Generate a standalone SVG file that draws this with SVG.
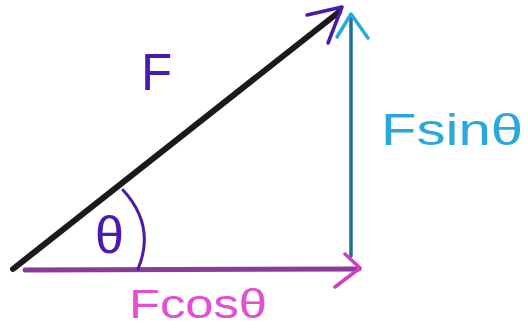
<svg xmlns="http://www.w3.org/2000/svg" width="528" height="333" viewBox="0 0 528 333">
<style>
.ln{fill:none;stroke-linecap:round;stroke-linejoin:round}
.lbl{font-family:"Liberation Sans","DejaVu Sans",sans-serif;font-weight:normal}
</style>
<rect width="528" height="333" fill="#ffffff"/>
<g id="connectors">
<g id="force-F">
<line class="ln" x1="13" y1="269" x2="339" y2="12" stroke="#1a1a1a" stroke-width="6"/>
<path class="ln" d="M307,15 L342,7 L328,43" stroke="#4a1aa8" stroke-width="3.5"/>
</g>
<g id="force-Fsin">
<line class="ln" x1="351" y1="256" x2="351" y2="16" stroke="#1d6f95" stroke-width="3.5"/>
<path class="ln" d="M337,37 L351,14 L368,38" stroke="#2aa8dc" stroke-width="3.5"/>
</g>
<g id="force-Fcos">
<line class="ln" x1="25" y1="270" x2="359" y2="269" stroke="#8a3a98" stroke-width="5"/>
<path class="ln" d="M345,254 L360,268 L335,287" stroke="#d040c0" stroke-width="3.5"/>
</g>
<path id="angle-arc" class="ln" d="M123,190 Q156,226 138,269" stroke="#4a1aa8" stroke-width="3"/>
</g>
<g id="label-F"><text class="lbl" x="141" y="90" font-size="51" fill="#4a1aa8">F</text></g>
<g id="label-theta"><text class="lbl" x="95" y="253" font-size="52" fill="#4a1aa8">θ</text></g>
<g id="label-Fsin"><text class="lbl" x="381" y="145" font-size="45" fill="#2aa8dc" textLength="142" lengthAdjust="spacingAndGlyphs">Fsinθ</text></g>
<g id="label-Fcos"><text class="lbl" x="129" y="318" font-size="41" fill="#e050d0" textLength="138" lengthAdjust="spacingAndGlyphs">Fcosθ</text></g>
</svg>
